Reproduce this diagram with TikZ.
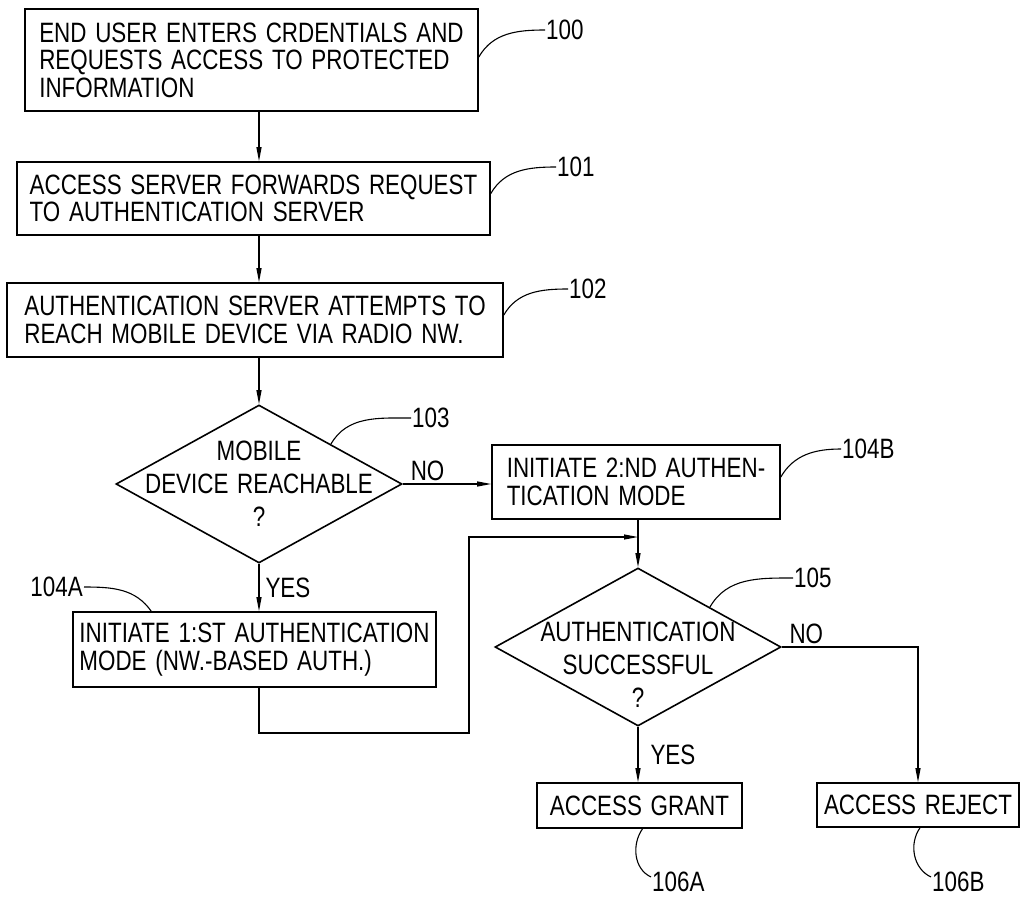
\documentclass[tikz,border=0pt]{standalone}
\usepackage{fontspec}
\setmainfont{Liberation Sans}[FakeStretch=0.8, WordSpace=1.4]
\usepackage{tikz}
\usetikzlibrary{positioning}
\usetikzlibrary{shapes.geometric}
\usetikzlibrary{arrows.meta}
\tikzset{process/.style={rectangle, draw, line width=1.6pt, align=left, inner xsep=6pt, inner ysep=4pt}, decision/.style={diamond, draw, line width=1.6pt, inner sep=0pt, minimum width=286pt, minimum height=158pt}}

\begin{document}
\begin{tikzpicture}[
    x=1pt, y=1pt,
    every node/.style={font=\fontsize{28}{27.5}\selectfont},
    qtext/.style={align=center, font=\fontsize{28}{33}\selectfont},
    refnum/.style={inner sep=1pt},
    arrow/.style={-{Triangle[length=14pt,width=5pt]}, line width=1.1pt},
    leader/.style={line width=1.1pt}
]
\useasboundingbox (0,0) rectangle (1025,-899);

% Nodes
\node[process, minimum width=453pt, minimum height=102pt] (b100) at (251.5,-60) {END USER ENTERS CRDENTIALS AND\\REQUESTS ACCESS TO PROTECTED\\INFORMATION};
\node[process, minimum width=473pt, minimum height=73pt] (b101) at (253.5,-198.5) {ACCESS SERVER FORWARDS REQUEST\\TO AUTHENTICATION SERVER};
\node[process, minimum width=496pt, minimum height=74pt] (b102) at (255,-320) {AUTHENTICATION SERVER ATTEMPTS TO\\REACH MOBILE DEVICE VIA RADIO NW.};
\node[decision, label={[qtext]center:MOBILE\\DEVICE REACHABLE\\?}] (d103) at (259,-484) {};
\node[process, minimum width=363pt, minimum height=75pt] (b104a) at (254.5,-649.5) {INITIATE 1:ST AUTHENTICATION\\MODE (NW.-BASED AUTH.)};
\node[process, minimum width=288pt, minimum height=74pt] (b104b) at (636,-482) {INITIATE 2:ND AUTHEN-\\TICATION MODE};
\node[decision, label={[qtext, yshift=-18pt]center:AUTHENTICATION\\SUCCESSFUL\\?}] (d105) at (638,-647) {};
\node[process, minimum width=205pt, minimum height=45pt] (b106a) at (639.5,-805.5) {ACCESS GRANT};
\node[process, minimum width=202pt, minimum height=44pt] (b106b) at (918,-805) {ACCESS REJECT};

\coordinate (loop) at (469,-733);
\coordinate (merge) at (638,-537);

% Reference numerals
\node[refnum, anchor=west] (l100) at (545,-30) {100};
\node[refnum, anchor=west] (l101) at (556,-167) {101};
\node[refnum, anchor=west] (l102) at (568,-289) {102};
\node[refnum, anchor=west] (l103) at (411,-418) {103};
\node[refnum, anchor=east] (l104a) at (84,-587) {104A};
\node[refnum, anchor=west] (l104b) at (841,-449) {104B};
\node[refnum, anchor=west] (l105) at (793,-578) {105};
\node[refnum, anchor=west] (l106a) at (651,-882) {106A};
\node[refnum, anchor=west] (l106b) at (931,-882) {106B};

% Paths
\draw[arrow] (b100.south -| d103.north) -- (b101.north -| d103.north);
\draw[arrow] (b101.south -| d103.north) -- (b102.north -| d103.north);
\draw[arrow] (b102.south -| d103.north) -- (d103.north);
\draw[arrow] (d103.east) -- node[pos=0.28, above, inner sep=3pt] {NO} (d103.east -| b104b.west);
\draw[arrow] (d103.south) -- node[midway, right, inner sep=6pt] {YES} (d103.south |- b104a.north);
\draw[arrow] (b104a.south -| d103.south) |- (loop) |- (merge);
\draw[arrow] (b104b.south -| d105.north) -- (d105.north);
\draw[arrow] (d105.south) -- node[midway, right, inner sep=12pt] {YES} (d105.south |- b106a.north);
\draw[arrow] (d105.east) -| node[pos=0.09, above, inner sep=3pt] {NO} (b106b.north);

% Leaders
\draw[leader] ([yshift=3pt]b100.east) to[out=60, in=180] (l100.west);
\draw[leader] ([yshift=5pt]b101.east) to[out=60, in=180] (l101.west);
\draw[leader] ([yshift=5pt]b102.east) to[out=60, in=180] (l102.west);
\draw[leader] (d103.north east) to[out=60, in=180] (l103.west);
\draw[leader] ([yshift=5pt]b104b.east) to[out=60, in=180] (l104b.west);
\draw[leader] (d105.north east) to[out=60, in=180] (l105.west);
\draw[leader] (l104a.east) to[out=0, in=125] ([xshift=79pt]b104a.north west);
\draw[leader] ([xshift=3pt]b106a.south) to[out=-125, in=155] ([yshift=5pt]l106a.west);
\draw[leader] ([xshift=2pt]b106b.south) to[out=-125, in=155] ([yshift=5pt]l106b.west);

\end{tikzpicture}
\end{document}
